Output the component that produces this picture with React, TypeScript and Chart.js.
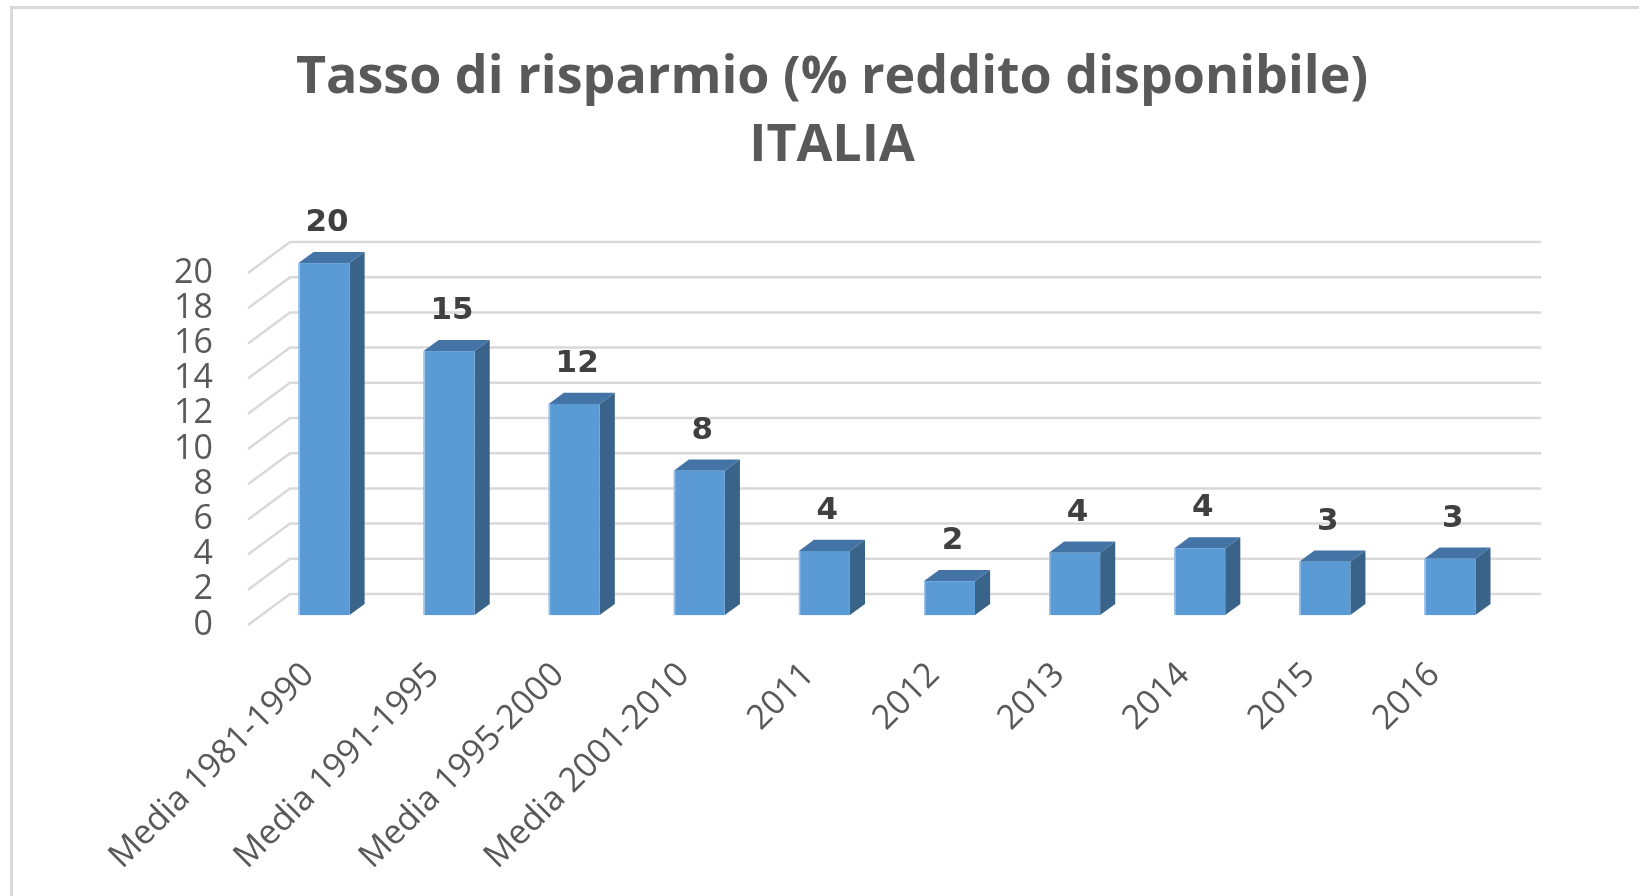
import React, { useEffect, useRef } from "react";
import { Chart, registerables } from "chart.js";

Chart.register(...registerables);

const categories = [
  "Media 1981-1990",
  "Media 1991-1995",
  "Media 1995-2000",
  "Media 2001-2010",
  "2011",
  "2012",
  "2013",
  "2014",
  "2015",
  "2016",
];
const savingsRate = [20, 15, 12, 8.2, 3.64, 1.93, 3.54, 3.79, 3.03, 3.2];
const titleLines = ["Tasso di risparmio (% reddito disponibile)", "ITALIA"];
const yMin = 0;
const yMax = 20;
const yStep = 2;

// 3D projection constants (depth of the back wall)
const DEPTH_X = 42;
const DEPTH_Y = 31;
const BAR_FRONT = 0.32;
const BAR_BACK = 0.68;

const COLOR_FRONT = "#5B9BD5";
const COLOR_TOP = "#4474A6";
const COLOR_SIDE = "#3A6389";
const COLOR_GRID = "#D9D9D9";
const COLOR_TEXT = "#595959";
const COLOR_LABEL = "#404040";

const wallPlugin = {
  id: "wall3d",
  beforeDatasetsDraw(chart: any) {
    const { ctx, chartArea, scales } = chart;
    const y = scales.y;
    ctx.save();
    ctx.strokeStyle = COLOR_GRID;
    ctx.lineWidth = 2.5;
    y.ticks.forEach((t: any) => {
      const py = y.getPixelForValue(t.value);
      ctx.beginPath();
      ctx.moveTo(chartArea.left, py);
      ctx.lineTo(chartArea.left + DEPTH_X, py - DEPTH_Y);
      ctx.lineTo(chartArea.right + DEPTH_X, py - DEPTH_Y);
      ctx.stroke();
    });
    ctx.restore();
  },
};

const bars3dPlugin = {
  id: "bars3d",
  afterDatasetsDraw(chart: any) {
    const { ctx } = chart;
    const meta = chart.getDatasetMeta(0);
    const values = chart.data.datasets[0].data as number[];
    const fx = BAR_FRONT * DEPTH_X;
    const fy = BAR_FRONT * DEPTH_Y;
    const bx = (BAR_BACK - BAR_FRONT) * DEPTH_X;
    const by = (BAR_BACK - BAR_FRONT) * DEPTH_Y;
    ctx.save();
    meta.data.forEach((el: any, i: number) => {
      const { x, y, base, width } = el.getProps(["x", "y", "base", "width"], true);
      const l = x - width / 2 + fx;
      const r = x + width / 2 + fx;
      const t = y - fy;
      const b = base - fy;
      // side face
      ctx.fillStyle = COLOR_SIDE;
      ctx.beginPath();
      ctx.moveTo(r, t);
      ctx.lineTo(r + bx, t - by);
      ctx.lineTo(r + bx, b - by);
      ctx.lineTo(r, b);
      ctx.closePath();
      ctx.fill();
      // top face
      ctx.fillStyle = COLOR_TOP;
      ctx.beginPath();
      ctx.moveTo(l, t);
      ctx.lineTo(r, t);
      ctx.lineTo(r + bx, t - by);
      ctx.lineTo(l + bx, t - by);
      ctx.closePath();
      ctx.fill();
      // front face
      ctx.fillStyle = COLOR_FRONT;
      ctx.fillRect(l, t, r - l, b - t);
      // light edge
      ctx.strokeStyle = "rgba(170,200,235,0.9)";
      ctx.lineWidth = 1.5;
      ctx.beginPath();
      ctx.moveTo(l + 0.75, b);
      ctx.lineTo(l + 0.75, t);
      ctx.stroke();
      // data label
      ctx.fillStyle = COLOR_LABEL;
      ctx.font = "bold 31px 'DejaVu Sans', sans-serif";
      ctx.textAlign = "center";
      ctx.textBaseline = "middle";
      ctx.fillText(String(Math.round(values[i])), (l + r) / 2 + 3, t - 40);
    });
    ctx.restore();
  },
};

export default function App() {
  const canvasRef = useRef<HTMLCanvasElement | null>(null);

  useEffect(() => {
    if (!canvasRef.current) return;
    const chart = new Chart(canvasRef.current, {
      type: "bar",
      data: {
        labels: categories,
        datasets: [
          {
            data: savingsRate,
            backgroundColor: "rgba(0,0,0,0)",
            borderWidth: 0,
            categoryPercentage: 1,
            barPercentage: 0.408,
          },
        ],
      },
      options: {
        animation: false,
        responsive: false,
        maintainAspectRatio: false,
        layout: { padding: { left: 165, right: 140, top: 0, bottom: 0 } },
        plugins: {
          legend: { display: false },
          tooltip: { enabled: false },
          title: {
            display: true,
            text: titleLines,
            color: COLOR_TEXT,
            font: { family: "Open Sans", size: 52, weight: "bold", lineHeight: 68 / 52 },
            padding: { top: 44, bottom: 93 },
          },
        },
        scales: {
          x: {
            grid: { display: false, drawTicks: false },
            border: { display: false },
            ticks: {
              minRotation: 45,
              maxRotation: 45,
              autoSkip: false,
              color: COLOR_TEXT,
              font: { family: "Open Sans", size: 34 },
              padding: 30,
              labelOffset: -2,
            },
            afterFit: (s: any) => {
              s.height = 271;
            },
          },
          y: {
            min: yMin,
            max: yMax,
            grid: { display: false, drawTicks: false },
            border: { display: false },
            ticks: {
              stepSize: yStep,
              autoSkip: false,
              color: COLOR_TEXT,
              font: { family: "Open Sans", size: 34 },
              padding: 35,
            },
            afterFit: (s: any) => {
              s.width = 83;
            },
          },
        },
      },
      plugins: [wallPlugin, bars3dPlugin],
    });
    return () => chart.destroy();
  }, []);

  return (
    <div
      style={{
        position: "fixed",
        left: 0,
        top: 0,
        width: 1639,
        height: 896,
        overflow: "hidden",
        background: "#ffffff",
      }}
    >
      <div
        style={{
          position: "absolute",
          left: 10,
          top: 6,
          width: 1700,
          height: 1000,
          borderTop: "3px solid #D9D9D9",
          borderLeft: "3px solid #D9D9D9",
        }}
      />
      <canvas
        ref={canvasRef}
        width={1639}
        height={896}
        style={{ position: "absolute", left: 0, top: 0, display: "block" }}
      />
    </div>
  );
}
